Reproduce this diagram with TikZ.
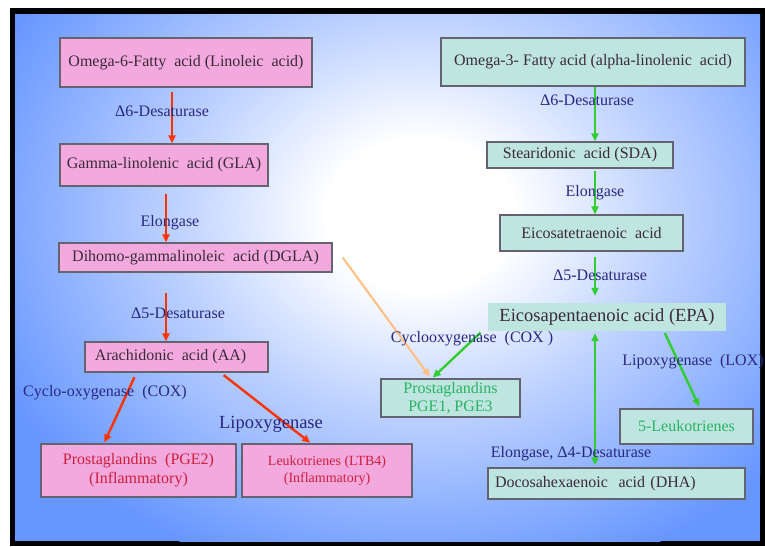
\documentclass[tikz,border=0pt]{standalone}
\usepackage{fontspec}
\setmainfont{Liberation Serif}
\usetikzlibrary{arrows.meta}
\definecolor{bgblue}{RGB}{102,150,255}
\definecolor{bgmid}{RGB}{190,210,255}
\definecolor{pinkfill}{RGB}{243,169,222}
\definecolor{tealfill}{RGB}{191,229,224}
\definecolor{boxline}{RGB}{100,100,112}
\definecolor{boxtext}{RGB}{58,42,58}
\definecolor{lblnavy}{RGB}{40,40,130}
\definecolor{arrred}{RGB}{255,51,0}
\definecolor{arrgreen}{RGB}{50,205,50}
\definecolor{arrorange}{RGB}{255,190,130}
\definecolor{txtred}{RGB}{205,30,60}
\definecolor{txtgreen}{RGB}{40,180,100}
\pgfdeclareradialshading{bgshade}{\pgfpoint{0bp}{0bp}}{color(0bp)=(white); color(5bp)=(white); color(13bp)=(bgmid); color(25bp)=(bgblue); color(50bp)=(bgblue)}
\begin{document}
\begin{tikzpicture}[x=1pt,y=-1pt,
  basebox/.style={draw=boxline, line width=1.3pt, inner sep=0pt, align=center,
    font=\fontsize{16}{19}\selectfont, text=boxtext},
  pinkbox/.style={basebox, fill=pinkfill},
  tealbox/.style={basebox, fill=tealfill},
  lbl/.style={inner sep=0pt, text=lblnavy, font=\fontsize{16}{19}\selectfont},
  tipstyle/.style={-{Triangle[length=8pt,width=7pt]}},
  redarr/.style={draw=arrred, line width=2.4pt, tipstyle},
  greenarr/.style={draw=arrgreen, line width=2.4pt, tipstyle},
  orangearr/.style={draw=arrorange, line width=2pt, tipstyle}]
\useasboundingbox (0,0) rectangle (765,546);
\fill[white] (0,0) rectangle (765,546);
\fill[black] (10,8) rectangle (765,546);
\begin{scope}
  \clip (15,14) rectangle (760,541);
  \fill[bgblue] (15,14) rectangle (760,541);
  \shade[shading=bgshade] (420,215) ellipse (470 and 380);
\end{scope}

% left (omega-6) column
\node[pinkbox, minimum width=252, minimum height=49] (om6) at (186,62.5) {Omega-6-Fatty~ acid (Linoleic~ acid)};
\node[pinkbox, minimum width=208, minimum height=42] (gla) at (164,165) {Gamma-linolenic~ acid (GLA)};
\node[pinkbox, minimum width=273, minimum height=29] (dgla) at (195.5,257.5) {Dihomo-gammalinoleic~ acid (DGLA)};
\node[pinkbox, minimum width=183, minimum height=30] (aa) at (176.5,357) {Arachidonic~ acid (AA)\hspace{12pt}};
\node[pinkbox, minimum width=195, minimum height=53, text=txtred] (pge2) at (138.5,470.5) {Prostaglandins~ (PGE2)\\(Inflammatory)};
\node[pinkbox, minimum width=170, minimum height=53, text=txtred, font=\fontsize{14}{17}\selectfont] (ltb4) at (327,470.5) {Leukotrienes (LTB4)\\(Inflammatory)};

% right (omega-3) column
\node[tealbox, minimum width=304, minimum height=48] (om3) at (593,62) {Omega-3- Fatty acid (alpha-linolenic~ acid)};
\node[tealbox, minimum width=186, minimum height=26] (sda) at (580,155) {Stearidonic~ acid (SDA)};
\node[tealbox, minimum width=183, minimum height=36] (eta) at (591.5,233) {Eicosatetraenoic~ acid};
\node[fill=tealfill, inner sep=0pt, minimum width=238, minimum height=28, text=boxtext, font=\fontsize{18.5}{21}\selectfont] (epa) at (607,317) {Eicosapentaenoic acid (EPA)};
\node[tealbox, minimum width=139, minimum height=38, text=txtgreen, font=\fontsize{16}{18}\selectfont] (pge13) at (450.5,398) {Prostaglandins\\PGE1, PGE3};
\node[tealbox, minimum width=133, minimum height=35, text=txtgreen] (lt5) at (686.5,426.5) {5-Leukotrienes};
\node[tealbox, minimum width=257, minimum height=31, text width=243, align=left] (dha) at (616.5,483.5) {Docosahexaenoic~ acid (DHA)};

% left arrows
\draw[redarr] ([xshift=-14]om6.south) ++(0,4) -- ([xshift=8]gla.north);
\draw[redarr] ([xshift=2]gla.south) ++(0,7) -- ([xshift=-29.5]dgla.north);
\draw[redarr] ([xshift=-29.5]dgla.south) ++(0,20) -- ([xshift=-10.5]aa.north);
\draw[redarr, shorten <=5pt, shorten >=1pt] ([xshift=-40]aa.south) -- ([xshift=-34.5]pge2.north);
\draw[redarr, shorten <=4pt, shorten >=1pt] ([xshift=44]aa.south) -- ([xshift=-16]ltb4.north);
\draw[orangearr, shorten >=2pt] ([xshift=10]dgla.east) -- ([xshift=-19.5]pge13.north);

% right arrows
\draw[greenarr] ([xshift=2]om3.south) -- ([xshift=15]sda.north);
\draw[greenarr] ([xshift=15]sda.south) ++(0,2) -- ([xshift=3.5]eta.north);
\draw[greenarr, shorten >=7pt] ([xshift=3.5]eta.south) ++(0,5) -- ([xshift=-12]epa.north);
\draw[greenarr, shorten <=2pt, shorten >=1pt] ([xshift=-125]epa.south) -- ([xshift=-18.5]pge13.north);
\draw[greenarr, shorten <=2pt, shorten >=2pt] ([xshift=57]epa.south) -- ([xshift=13.5]lt5.north);
\draw[greenarr, {Triangle[length=8pt,width=7pt]}-{Triangle[length=8pt,width=7pt]}, shorten <=2pt, shorten >=2pt] ([xshift=-12]epa.south) -- ([xshift=-21.5]dha.north);

% labels
\node[lbl] (l1) at (162,111) {Δ6-Desaturase};
\node[lbl] (l2) at (170,223) {Elongase};
\node[lbl] (l3) at (178,313) {Δ5-Desaturase};
\node[lbl] (l4) at (105,393) {Cyclo-oxygenase~ (COX)};
\node[lbl, font=\fontsize{18.5}{21}\selectfont] (l5) at (271,424) {Lipoxygenase};
\node[lbl] (r1) at (587,100) {Δ6-Desaturase};
\node[lbl] (r2) at (595,193) {Elongase};
\node[lbl] (r3) at (600,275) {Δ5-Desaturase};
\node[lbl] (r4) at (472,339) {Cyclooxygenase~ (COX )};
\node[lbl] (r5) at (693,362) {Lipoxygenase~ (LOX)};
\node[lbl] (r6) at (571,454) {Elongase, Δ4-Desaturase};
\end{tikzpicture}
\end{document}
